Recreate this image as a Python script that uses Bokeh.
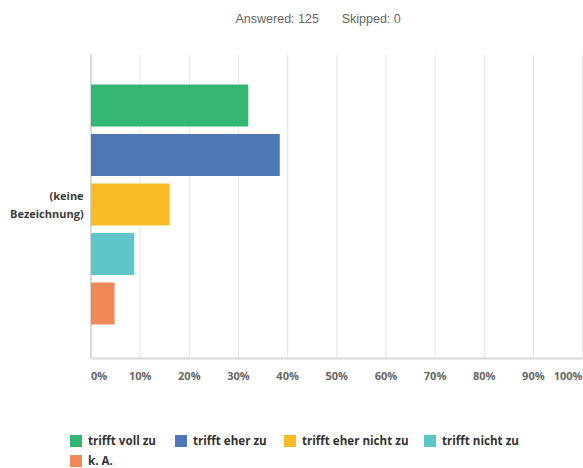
from bokeh.plotting import figure
from bokeh.models import ColumnDataSource, Range1d, Legend, LegendItem
from bokeh.core.properties import value, field
from bokeh.embed import file_html
from bokeh.resources import INLINE

# ---- data ----
series = ["trifft voll zu", "trifft eher zu", "trifft eher nicht zu",
          "trifft nicht zu", "k. A."]
percent = [32.0, 38.4, 16.0, 8.8, 4.8]
colors = ["#33b574", "#4e77b6", "#f6bb25", "#5ec6c9", "#f08858"]
tick_values = [0, 10, 20, 30, 40, 50, 60, 70, 80, 90, 100]
tick_labels = ["0%", "10%", "20%", "30%", "40%", "50%", "60%", "70%",
               "80%", "90%", "100%"]
tick_align = ["left"] + ["center"] * 9 + ["right"]
question = ["(keine\nBezeichnung)"]
header = ["Answered: 125", "Skipped: 0"]

FONT = "Open Sans"

# plot area in data units: x 0..100, y -1.03 (top) .. 5.11 (bottom)
Y_TOP, Y_BOT = -1.03, 5.11

p = figure(width=583, height=468, output_backend="svg", toolbar_location=None,
           x_range=Range1d(-18.41, 100.2), y_range=Range1d(7.334, -2.121),
           min_border=0)
p.outline_line_color = None
p.axis.visible = False
p.grid.visible = False
p.background_fill_color = "white"
p.border_fill_color = "white"

# grid lines at the ticks
n = len(tick_values)
p.segment(x0=tick_values, x1=tick_values, y0=[Y_TOP] * n, y1=[Y_BOT] * n,
          line_color="#e6e6e6", line_width=1)
# axis lines (left and bottom)
p.segment(x0=[0, 0], x1=[0, 100], y0=[Y_TOP, Y_BOT], y1=[Y_BOT, Y_BOT],
          line_color="#d8d8d8", line_width=2)

src = ColumnDataSource(dict(y=list(range(len(series))), right=percent,
                            color=colors, label=series))
r = p.hbar(y="y", left=0, right="right", height=0.85, color="color",
           line_color=None, source=src)

# tick labels
tsrc = ColumnDataSource(dict(x=tick_values, text=tick_labels, align=tick_align))
p.text(x="x", y=5.455, text="text", source=tsrc, text_align=field("align"),
       text_baseline="middle", text_font=value(FONT), text_font_style="bold",
       text_font_size="11px", text_color="#666666")

# category label
p.text(x=[-1.5], y=[2], text=question, text_align="right",
       text_baseline="middle", text_font=value(FONT), text_font_style="bold",
       text_font_size="11px", text_color="#3a3a3a", text_line_height=1.2)

# header
p.text(x=[29.4, 51.0], y=[-1.757, -1.757], text=header, text_align="left",
       text_baseline="middle", text_font=value("Liberation Sans"),
       text_font_size="12.5px", text_color="#666666")

# legend: one entry per series, laid out in two rows
legend_locs = [(68, 20), (173, 20), (282, 20), (422, 20), (68, 0)]
for i, loc in enumerate(legend_locs):
    lg = Legend(items=[LegendItem(label=series[i], renderers=[r], index=i)],
                location=loc, orientation="horizontal",
                padding=0, margin=0, spacing=0, label_standoff=5,
                glyph_width=15, glyph_height=15, label_height=15,
                border_line_color=None, background_fill_alpha=0,
                label_text_font=FONT, label_text_font_style="bold",
                label_text_font_size="11.6px", label_text_color="#333333")
    p.add_layout(lg)

open("out.html", "w").write(file_html(p, INLINE))
